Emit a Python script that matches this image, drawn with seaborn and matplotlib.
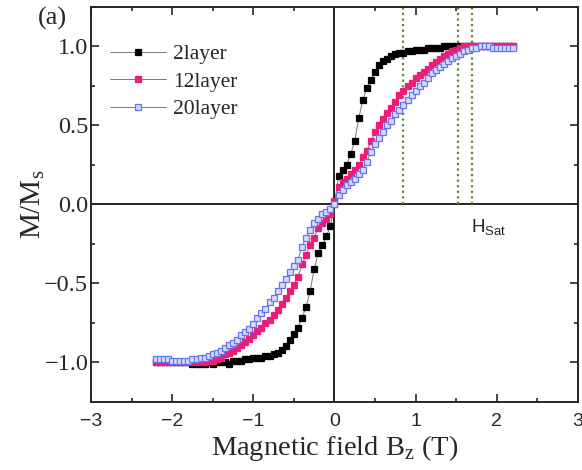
import numpy as np
import pandas as pd
import seaborn as sns
import matplotlib.pyplot as plt
from matplotlib.ticker import MultipleLocator

# field sweep (T)
field = [-2.20, -2.15, -2.10, -2.05, -2.00, -1.95, -1.90, -1.85, -1.80, -1.75,
         -1.70, -1.65, -1.60, -1.55, -1.50, -1.45, -1.40, -1.35, -1.30, -1.25,
         -1.20, -1.15, -1.10, -1.05, -1.00, -0.95, -0.90, -0.85, -0.80, -0.75,
         -0.70, -0.65, -0.60, -0.55, -0.50, -0.45, -0.40, -0.35, -0.30, -0.25,
         -0.20, -0.15, -0.10, -0.05, 0.00, 0.05, 0.10, 0.15, 0.20, 0.25,
         0.30, 0.35, 0.40, 0.45, 0.50, 0.55, 0.60, 0.65, 0.70, 0.75,
         0.80, 0.85, 0.90, 0.95, 1.00, 1.05, 1.10, 1.15, 1.20, 1.25,
         1.30, 1.35, 1.40, 1.45, 1.50, 1.55, 1.60, 1.65, 1.70, 1.75,
         1.80, 1.85, 1.90, 1.95, 2.00, 2.05, 2.10, 2.15, 2.20]

m_2layer = [-1.00, -1.00, -1.00, -1.00, -1.00, -1.00, -1.00, -1.00, -1.00, -1.01,
            -1.01, -1.01, -1.01, -1.00, -1.01, -1.00, -1.00, -1.00, -1.01, -0.99,
            -0.99, -0.99, -0.98, -0.98, -0.97, -0.97, -0.97, -0.96, -0.96, -0.95,
            -0.94, -0.92, -0.90, -0.86, -0.82, -0.78, -0.72, -0.65, -0.55, -0.41,
            -0.31, -0.26, -0.20, -0.14, 0.00, 0.18, 0.22, 0.25, 0.32, 0.40,
            0.55, 0.66, 0.74, 0.79, 0.84, 0.88, 0.91, 0.92, 0.94, 0.95,
            0.96, 0.96, 0.97, 0.97, 0.98, 0.98, 0.98, 0.99, 0.99, 0.99,
            0.99, 1.00, 1.00, 1.00, 1.00, 1.00, 1.00, 1.00, 1.00, 1.00,
            1.00, 1.00, 1.00, 1.00, 1.00, 1.00, 1.00, 1.00, 1.00]

m_12layer = [-1.00, -1.00, -1.00, -1.00, -1.00, -1.00, -1.00, -1.00, -1.00, -1.00,
             -1.00, -1.00, -1.00, -0.99, -0.99, -0.98, -0.97, -0.95, -0.94, -0.93,
             -0.91, -0.89, -0.87, -0.85, -0.83, -0.80, -0.78, -0.75, -0.73, -0.70,
             -0.67, -0.63, -0.59, -0.55, -0.51, -0.46, -0.38, -0.32, -0.26, -0.21,
             -0.15, -0.12, -0.09, -0.06, 0.02, 0.11, 0.14, 0.16, 0.19, 0.22,
             0.25, 0.30, 0.34, 0.40, 0.46, 0.50, 0.54, 0.58, 0.61, 0.65,
             0.69, 0.72, 0.75, 0.77, 0.80, 0.82, 0.84, 0.86, 0.88, 0.90,
             0.92, 0.94, 0.95, 0.97, 0.98, 0.99, 1.00, 1.00, 1.00, 1.00,
             1.00, 1.00, 1.00, 1.00, 1.00, 1.00, 1.00, 1.00, 1.00]

m_20layer = [-0.98, -0.98, -0.98, -0.98, -0.99, -0.99, -0.99, -0.99, -0.99, -0.98,
             -0.98, -0.97, -0.97, -0.96, -0.95, -0.94, -0.93, -0.91, -0.89, -0.88,
             -0.86, -0.83, -0.81, -0.79, -0.76, -0.72, -0.69, -0.66, -0.62, -0.59,
             -0.55, -0.51, -0.47, -0.43, -0.39, -0.35, -0.27, -0.21, -0.16, -0.12,
             -0.09, -0.06, -0.05, -0.03, 0.00, 0.06, 0.09, 0.12, 0.14, 0.16,
             0.19, 0.22, 0.27, 0.33, 0.38, 0.42, 0.46, 0.50, 0.53, 0.57,
             0.60, 0.63, 0.66, 0.69, 0.72, 0.75, 0.77, 0.80, 0.83, 0.85,
             0.87, 0.89, 0.91, 0.93, 0.94, 0.95, 0.97, 0.98, 0.99, 0.99,
             1.00, 1.00, 1.00, 0.99, 0.99, 0.99, 0.99, 0.99, 0.99]

h_sat = [0.85, 1.52, 1.70]

sns.set_style('ticks')
plt.rcParams['font.family'] = ['Liberation Serif', 'DejaVu Serif']
plt.rcParams['mathtext.fontset'] = 'custom'

fig = plt.figure(figsize=(5.82, 4.70), dpi=100)
ax = fig.add_axes([0.1564, 0.1453, 0.8366, 0.8398])

styles = [
    ('2layer', m_2layer, dict(markerfacecolor='black', markeredgecolor='black')),
    ('12layer', m_12layer, dict(markerfacecolor='#EC1C79', markeredgecolor='#EC1C79')),
    ('20layer', m_20layer, dict(markerfacecolor='#D6DAFF', markeredgecolor='#6474EE')),
]
for name, m, kw in styles:
    sns.lineplot(x=field, y=m, ax=ax, color='#777777', lw=0.7, marker='s',
                 markersize=4.8, markeredgewidth=0.9, label=name, **kw)

ax.axhline(0, color='black', lw=1.2, zorder=0)
ax.axvline(0, color='black', lw=1.2, zorder=0)
ax.vlines(h_sat, 0, 1.25, colors='#5E8A2E', linestyles=(0, (1, 1.5)), lw=1.6, zorder=1)

ax.text(1.68, -0.18, 'H$_\\mathregular{Sat}$', fontsize=13.5, family='Liberation Sans')
ax.text(-0.11, 0.955, '(a)', transform=ax.transAxes, fontsize=19)

ax.set_xlim(-3, 3)
ax.set_ylim(-1.25, 1.25)
ax.xaxis.set_major_locator(MultipleLocator(1))
ax.xaxis.set_minor_locator(MultipleLocator(0.5))
ax.yaxis.set_major_locator(MultipleLocator(0.5))
ax.yaxis.set_minor_locator(MultipleLocator(0.25))
ax.tick_params(which='both', direction='in', top=True, right=True, width=1.2)
ax.tick_params(which='major', length=6)
ax.tick_params(which='minor', length=3)
ax.tick_params(axis='y', labelsize=17.5, pad=2)
ax.tick_params(axis='x', labelsize=14, pad=8)
for lab in ax.get_xticklabels():
    lab.set_family('Liberation Sans')
for sp in ax.spines.values():
    sp.set_linewidth(1.4)

ax.set_xlabel('Magnetic field B$_\\mathregular{z}$ (T)', fontsize=20.5, labelpad=2)
ax.set_ylabel('M/M$_\\mathregular{s}$', fontsize=21, labelpad=-2)

ax.legend(loc='upper left', bbox_to_anchor=(0.0, 0.955), frameon=False, fontsize=15.5,
          handlelength=2.6, labelspacing=0.35, handletextpad=0.3)

plt.savefig('out.png', dpi=100)
